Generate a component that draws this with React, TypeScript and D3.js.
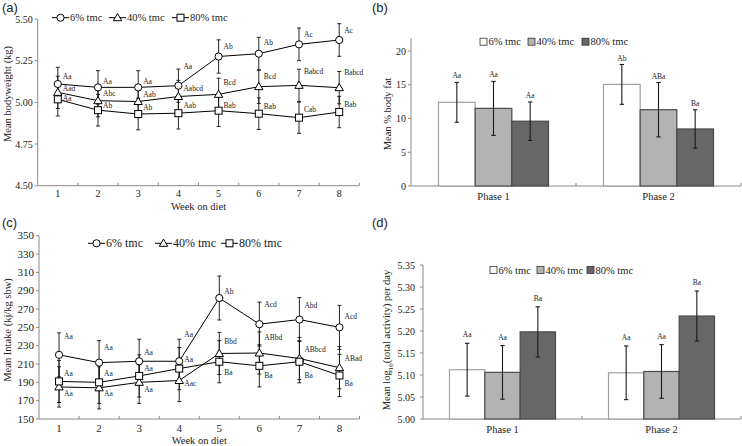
import React from 'react';
import * as d3 from 'd3';

// ---------- data ----------
const weeks = [1, 2, 3, 4, 5, 6, 7, 8];
const seriesNames = ['6% tmc', '40% tmc', '80% tmc'];

// (a) body weight
const bwMean6 = [5.11, 5.09, 5.09, 5.10, 5.275, 5.292, 5.348, 5.374];
const bwMean40 = [5.06, 5.01, 5.005, 5.035, 5.048, 5.094, 5.102, 5.088];
const bwMean80 = [5.018, 4.953, 4.93, 4.935, 4.95, 4.932, 4.908, 4.942];
const bwErr6 = [0.1, 0.1, 0.1, 0.1, 0.1, 0.098, 0.098, 0.098];
const bwErr40 = [0.097, 0.097, 0.097, 0.097, 0.097, 0.1, 0.097, 0.097];
const bwErr80 = [0.1, 0.095, 0.095, 0.095, 0.095, 0.095, 0.094, 0.094];
const bwLab6 = ['Aa', 'Aa', 'Aa', 'Aa', 'Ab', 'Ab', 'Ac', 'Ac'];
const bwLab40 = ['Aad', 'Abc', 'Aab', 'Aabcd', 'Bcd', 'Bcd', 'Babcd', 'Babcd'];
const bwLab80 = ['Aa', 'Ab', 'Ab', 'Aab', 'Bab', 'Bab', 'Cab', 'Bab'];
const bwLabAt6 = [5.158, 5.128, 5.128, 5.214, 5.334, 5.358, 5.408, 5.434];
const bwLabAt40 = [5.084, 5.052, 5.048, 5.084, 5.118, 5.154, 5.184, 5.18];
const bwLabAt80 = [5.026, 4.982, 4.968, 4.982, 4.982, 4.974, 4.96, 4.988];
const bwTicks = [4.5, 4.75, 5.0, 5.25, 5.5];

// (c) intake
const inMean6 = [220, 211.5, 213, 213, 282, 253.5, 258.5, 250];
const inMean40 = [185, 184, 190, 192, 221.5, 222, 216, 206];
const inMean80 = [191, 190, 197, 205, 212.5, 208, 212.5, 197.5];
const inErr6 = [24, 24, 24, 24, 24, 24, 24, 24];
const inErr40 = [22, 23, 23, 23, 23, 23, 23, 23];
const inErr80 = [23, 23, 23, 23, 23, 23, 23, 23];
const inLab6 = ['Aa', 'Aa', 'Aa', 'Aa', 'Ab', 'Acd', 'Abd', 'Acd'];
const inLab40 = ['Aa', 'Aa', 'Aa', 'Aac', 'Bbd', 'ABbd', 'ABbcd', 'ABad'];
const inLab80 = ['Aa', 'Aa', 'Aa', 'Aa', 'Ba', 'Ba', 'Ba', 'Ba'];
const inLabAt6 = [239.8, 228.2, 222.7, 242.7, 289.6, 275.1, 273.3, 261.6];
const inLabAt40 = [177.3, 177.3, 182.4, 188.9, 234.4, 239.1, 226, 216.2];
const inLabAt80 = [199.8, 199.8, 205.3, 215.1, 200.5, 198, 198, 188.9];
const inTicks = [150, 170, 190, 210, 230, 250, 270, 290, 310, 330, 350];

// (b) body fat
const phases = ['Phase 1', 'Phase 2'];
const fatMean6 = [12.4, 15.05];
const fatMean40 = [11.5, 11.3];
const fatMean80 = [9.6, 8.45];
const fatErr6 = [2.95, 2.95];
const fatErr40 = [4.0, 4.03];
const fatErr80 = [2.85, 2.85];
const fatLab6 = ['Aa', 'Ab'];
const fatLab40 = ['Aa', 'ABa'];
const fatLab80 = ['Aa', 'Ba'];
const fatTicks = [0, 5, 10, 15, 20];

// (d) activity
const actMean6 = [5.112, 5.105];
const actMean40 = [5.106, 5.108];
const actMean80 = [5.198, 5.234];
const actErr6 = [0.06, 0.061];
const actErr40 = [0.061, 0.061];
const actErr80 = [0.057, 0.057];
const actLab6 = ['Aa', 'Aa'];
const actLab40 = ['Aa', 'Aa'];
const actLab80 = ['Ba', 'Ba'];
const actTicks = [5.0, 5.05, 5.1, 5.15, 5.2, 5.25, 5.3, 5.35];

// ---------- style ----------
const SERIF = 'Liberation Serif, serif';
const SANS = 'Liberation Sans, sans-serif';
const AXIS = '#8a8a8a';
const TXT = '#222';
const markerKinds = ['circle', 'tri', 'square'];
const barFills = ['#ffffff', '#b3b3b3', '#676767'];
const barStrokes = ['#a0a0a0', '#4a4a4a', '#4a4a4a'];

function Marker({ kind, x, y }: { kind: string; x: number; y: number }) {
  const st = { fill: '#fff', stroke: '#000', strokeWidth: 1 };
  if (kind === 'circle') return <circle cx={x} cy={y} r={3.6} {...st} />;
  if (kind === 'tri')
    return <path d={`M${x},${y - 4.2}L${x + 4.2},${y + 3}L${x - 4.2},${y + 3}Z`} {...st} />;
  return <rect x={x - 3.5} y={y - 3.5} width={7} height={7} {...st} />;
}

type LineCfg = {
  x0: number; x1: number; yTop: number; yBot: number;
  domain: [number, number]; ticks: number[]; fmt: (v: number) => string;
  means: number[][]; errs: number[][]; labels: string[][]; labelAt: number[][];
  title: string; titleY: number;
  legendY: number; legendXs: number[]; legendFont: number;
  tickFont: number; tickLabelY: number; xTitleY: number;
};

function LinePanel(c: LineCfg) {
  const x = d3.scalePoint<number>().domain(weeks).range([c.x0, c.x1]).padding(0.5);
  const y = d3.scaleLinear().domain(c.domain).range([c.yBot, c.yTop]);
  const step = x.step();
  const line = d3.line<number>().x((_, i) => x(weeks[i])!).y((d) => y(d));
  return (
    <g fill={TXT}>
      <line x1={c.x0} x2={c.x0} y1={c.yTop} y2={c.yBot} stroke={AXIS} />
      <line x1={c.x0} x2={c.x1} y1={c.yBot} y2={c.yBot} stroke={AXIS} />
      {c.ticks.map((t) => (
        <g key={t}>
          <line x1={c.x0 - 3} x2={c.x0} y1={y(t)} y2={y(t)} stroke={AXIS} />
          <text x={c.x0 - 5} y={y(t) + 3.5} textAnchor="end" fontFamily={SERIF} fontSize={c.tickFont}>
            {c.fmt(t)}
          </text>
        </g>
      ))}
      {weeks.map((w, i) => (
        <g key={w}>
          <line x1={c.x0 + step * (i + 1)} x2={c.x0 + step * (i + 1)} y1={c.yBot} y2={c.yBot - 3} stroke={AXIS} />
          <text x={x(w)} y={c.tickLabelY} textAnchor="middle" fontFamily={SERIF} fontSize={c.tickFont}>
            {w}
          </text>
        </g>
      ))}
      <text x={(c.x0 + c.x1) / 2} y={c.xTitleY} textAnchor="middle" fontFamily={SERIF} fontSize={10.5}>
        Week on diet
      </text>
      <text transform={`translate(11,${c.titleY}) rotate(-90)`} textAnchor="middle" fontFamily={SERIF} fontSize={10.5}>
        {c.title}
      </text>
      {c.means.map((m, s) => (
        <g key={s}>
          <path d={line(m)!} fill="none" stroke="#000" strokeWidth={1} />
          {m.map((v, i) => {
            const cx = x(weeks[i])!;
            const e = c.errs[s][i];
            return (
              <g key={i} stroke="#111" strokeWidth={0.9}>
                <line x1={cx} x2={cx} y1={y(v + e)} y2={y(v - e)} />
                <line x1={cx - 2} x2={cx + 2} y1={y(v + e)} y2={y(v + e)} />
                <line x1={cx - 2} x2={cx + 2} y1={y(v - e)} y2={y(v - e)} />
              </g>
            );
          })}
        </g>
      ))}
      {c.means.map((m, s) => (
        <g key={'m' + s}>
          {m.map((v, i) => (
            <Marker key={i} kind={markerKinds[s]} x={x(weeks[i])!} y={y(v)} />
          ))}
        </g>
      ))}
      {c.labels.map((labs, s) => (
        <g key={'l' + s}>
          {labs.map((l, i) => (
            <text key={i} x={x(weeks[i])! + 5} y={y(c.labelAt[s][i]) + 2.5} fontFamily={SERIF} fontSize={7.5}>
              {l}
            </text>
          ))}
        </g>
      ))}
      {seriesNames.map((n, s) => {
        const lx = c.legendXs[s];
        return (
          <g key={n}>
            <line x1={lx} x2={lx + 17} y1={c.legendY} y2={c.legendY} stroke="#000" />
            <Marker kind={markerKinds[s]} x={lx + 8.5} y={c.legendY} />
            <text x={lx + 18} y={c.legendY + c.legendFont * 0.33} fontFamily={SERIF} fontSize={c.legendFont}>
              {n}
            </text>
          </g>
        );
      })}
    </g>
  );
}

type BarCfg = {
  x0: number; x1: number; yTop: number; yBot: number; axisTop: number;
  domain: [number, number]; ticks: number[]; fmt: (v: number) => string;
  means: number[][]; errs: number[][]; labels: string[][];
  title: React.ReactNode; titleX: number; titleY: number;
  legendY: number; legendXs: number[]; tickGap: number; xLabelY: number; labelGap: number;
};

function BarPanel(c: BarCfg) {
  const x = d3.scaleBand<string>().domain(phases).range([c.x0, c.x1]).paddingInner(1 / 3).paddingOuter(1 / 6);
  const sub = d3.scaleBand<number>().domain([0, 1, 2]).range([0, x.bandwidth()]);
  const y = d3.scaleLinear().domain(c.domain).range([c.yBot, c.yTop]);
  const step = x.step();
  return (
    <g fill={TXT}>
      <line x1={c.x0} x2={c.x0} y1={c.axisTop} y2={c.yBot} stroke={AXIS} />
      <line x1={c.x0} x2={c.x1} y1={c.yBot} y2={c.yBot} stroke={AXIS} />
      {c.ticks.map((t) => (
        <g key={t}>
          <line x1={c.x0 - 3} x2={c.x0} y1={y(t)} y2={y(t)} stroke={AXIS} />
          <text x={c.x0 - c.tickGap} y={y(t) + 3.5} textAnchor="end" fontFamily={SERIF} fontSize={10}>
            {c.fmt(t)}
          </text>
        </g>
      ))}
      {phases.map((p, i) => (
        <g key={p}>
          <line x1={c.x0 + step * (i + 1)} x2={c.x0 + step * (i + 1)} y1={c.yBot} y2={c.yBot - 3} stroke={AXIS} />
          <text x={x(p)! + x.bandwidth() / 2} y={c.xLabelY} textAnchor="middle" fontFamily={SERIF} fontSize={10.5}>
            {p}
          </text>
        </g>
      ))}
      <text transform={`translate(${c.titleX},${c.titleY}) rotate(-90)`} textAnchor="middle" fontFamily={SERIF} fontSize={10.5}>
        {c.title}
      </text>
      {c.means.map((m, s) => (
        <g key={s}>
          {m.map((v, i) => {
            const bx = x(phases[i])! + sub(s)!;
            const bw = sub.bandwidth();
            const cx = bx + bw / 2;
            const e = c.errs[s][i];
            return (
              <g key={i}>
                <rect x={bx} y={y(v)} width={bw} height={c.yBot - y(v)} fill={barFills[s]} stroke={barStrokes[s]} strokeWidth={1.2} />
                <g stroke="#1a1a1a" strokeWidth={1.1}>
                  <line x1={cx} x2={cx} y1={y(v + e)} y2={y(v - e)} />
                  <line x1={cx - 2.2} x2={cx + 2.2} y1={y(v + e)} y2={y(v + e)} />
                  <line x1={cx - 2.2} x2={cx + 2.2} y1={y(v - e)} y2={y(v - e)} />
                </g>
                <text x={cx} y={y(v + e) - c.labelGap} textAnchor="middle" fontFamily={SERIF} fontSize={7.5}>
                  {c.labels[s][i]}
                </text>
              </g>
            );
          })}
        </g>
      ))}
      {seriesNames.map((n, s) => {
        const lx = c.legendXs[s];
        return (
          <g key={n}>
            <rect x={lx} y={c.legendY - 3.5} width={7} height={7} fill={barFills[s]} stroke="#333" strokeWidth={0.8} />
            <text x={lx + 8.5} y={c.legendY + 3.5} fontFamily={SERIF} fontSize={10.5}>
              {n}
            </text>
          </g>
        );
      })}
    </g>
  );
}

export default function App() {
  const f2 = (v: number) => v.toFixed(2);
  const f0 = (v: number) => String(v);
  return (
    <svg width={742} height={446} style={{ position: 'absolute', left: 0, top: 0, background: '#fff' }}>
      <rect width={742} height={446} fill="#fff" />
      <g fill={TXT}>
        <text x={2} y={11.5} fontFamily={SANS} fontSize={13}>(a)</text>
        <text x={372} y={11.5} fontFamily={SANS} fontSize={13}>(b)</text>
        <text x={2} y={227} fontFamily={SANS} fontSize={13}>(c)</text>
        <text x={372} y={227} fontFamily={SANS} fontSize={13}>(d)</text>
      </g>

      <LinePanel
        x0={37.7} x1={359.3} yTop={19} yBot={185.7} domain={[4.5, 5.5]} ticks={bwTicks} fmt={f2}
        means={[bwMean6, bwMean40, bwMean80]} errs={[bwErr6, bwErr40, bwErr80]}
        labels={[bwLab6, bwLab40, bwLab80]} labelAt={[bwLabAt6, bwLabAt40, bwLabAt80]}
        title="Mean bodyweight (kg)" titleY={94}
        legendY={17.7} legendXs={[52, 109, 172]} legendFont={10.5}
        tickFont={10} tickLabelY={197} xTitleY={210}
      />
      <LinePanel
        x0={39} x1={359.5} yTop={235.7} yBot={419} domain={[150, 350]} ticks={inTicks} fmt={f0}
        means={[inMean6, inMean40, inMean80]} errs={[inErr6, inErr40, inErr80]}
        labels={[inLab6, inLab40, inLab80]} labelAt={[inLabAt6, inLabAt40, inLabAt80]}
        title="Mean Intake (kj/kg sbw)" titleY={330}
        legendY={243.3} legendXs={[88, 155, 221]} legendFont={12}
        tickFont={11} tickLabelY={432} xTitleY={443.5}
      />
      <BarPanel
        x0={411} x1={741} yTop={51} yBot={186} axisTop={38} domain={[0, 20]} ticks={fatTicks} fmt={f0}
        means={[fatMean6, fatMean40, fatMean80]} errs={[fatErr6, fatErr40, fatErr80]}
        labels={[fatLab6, fatLab40, fatLab80]}
        title="Mean % body fat" titleX={391} titleY={114}
        legendY={41.7} legendXs={[480, 528, 582]} tickGap={5} xLabelY={199.5} labelGap={4}
      />
      <BarPanel
        x0={423} x1={741} yTop={265} yBot={419} axisTop={265} domain={[5.0, 5.35]} ticks={actTicks} fmt={f2}
        means={[actMean6, actMean40, actMean80]} errs={[actErr6, actErr40, actErr80]}
        labels={[actLab6, actLab40, actLab80]}
        title={<>Mean log<tspan fontSize={7} dy={3}>10</tspan><tspan dy={-3}>(total activity) per day</tspan></>}
        titleX={390} titleY={340}
        legendY={270} legendXs={[490, 537, 587]} tickGap={8} xLabelY={432.5} labelGap={6}
      />
    </svg>
  );
}
